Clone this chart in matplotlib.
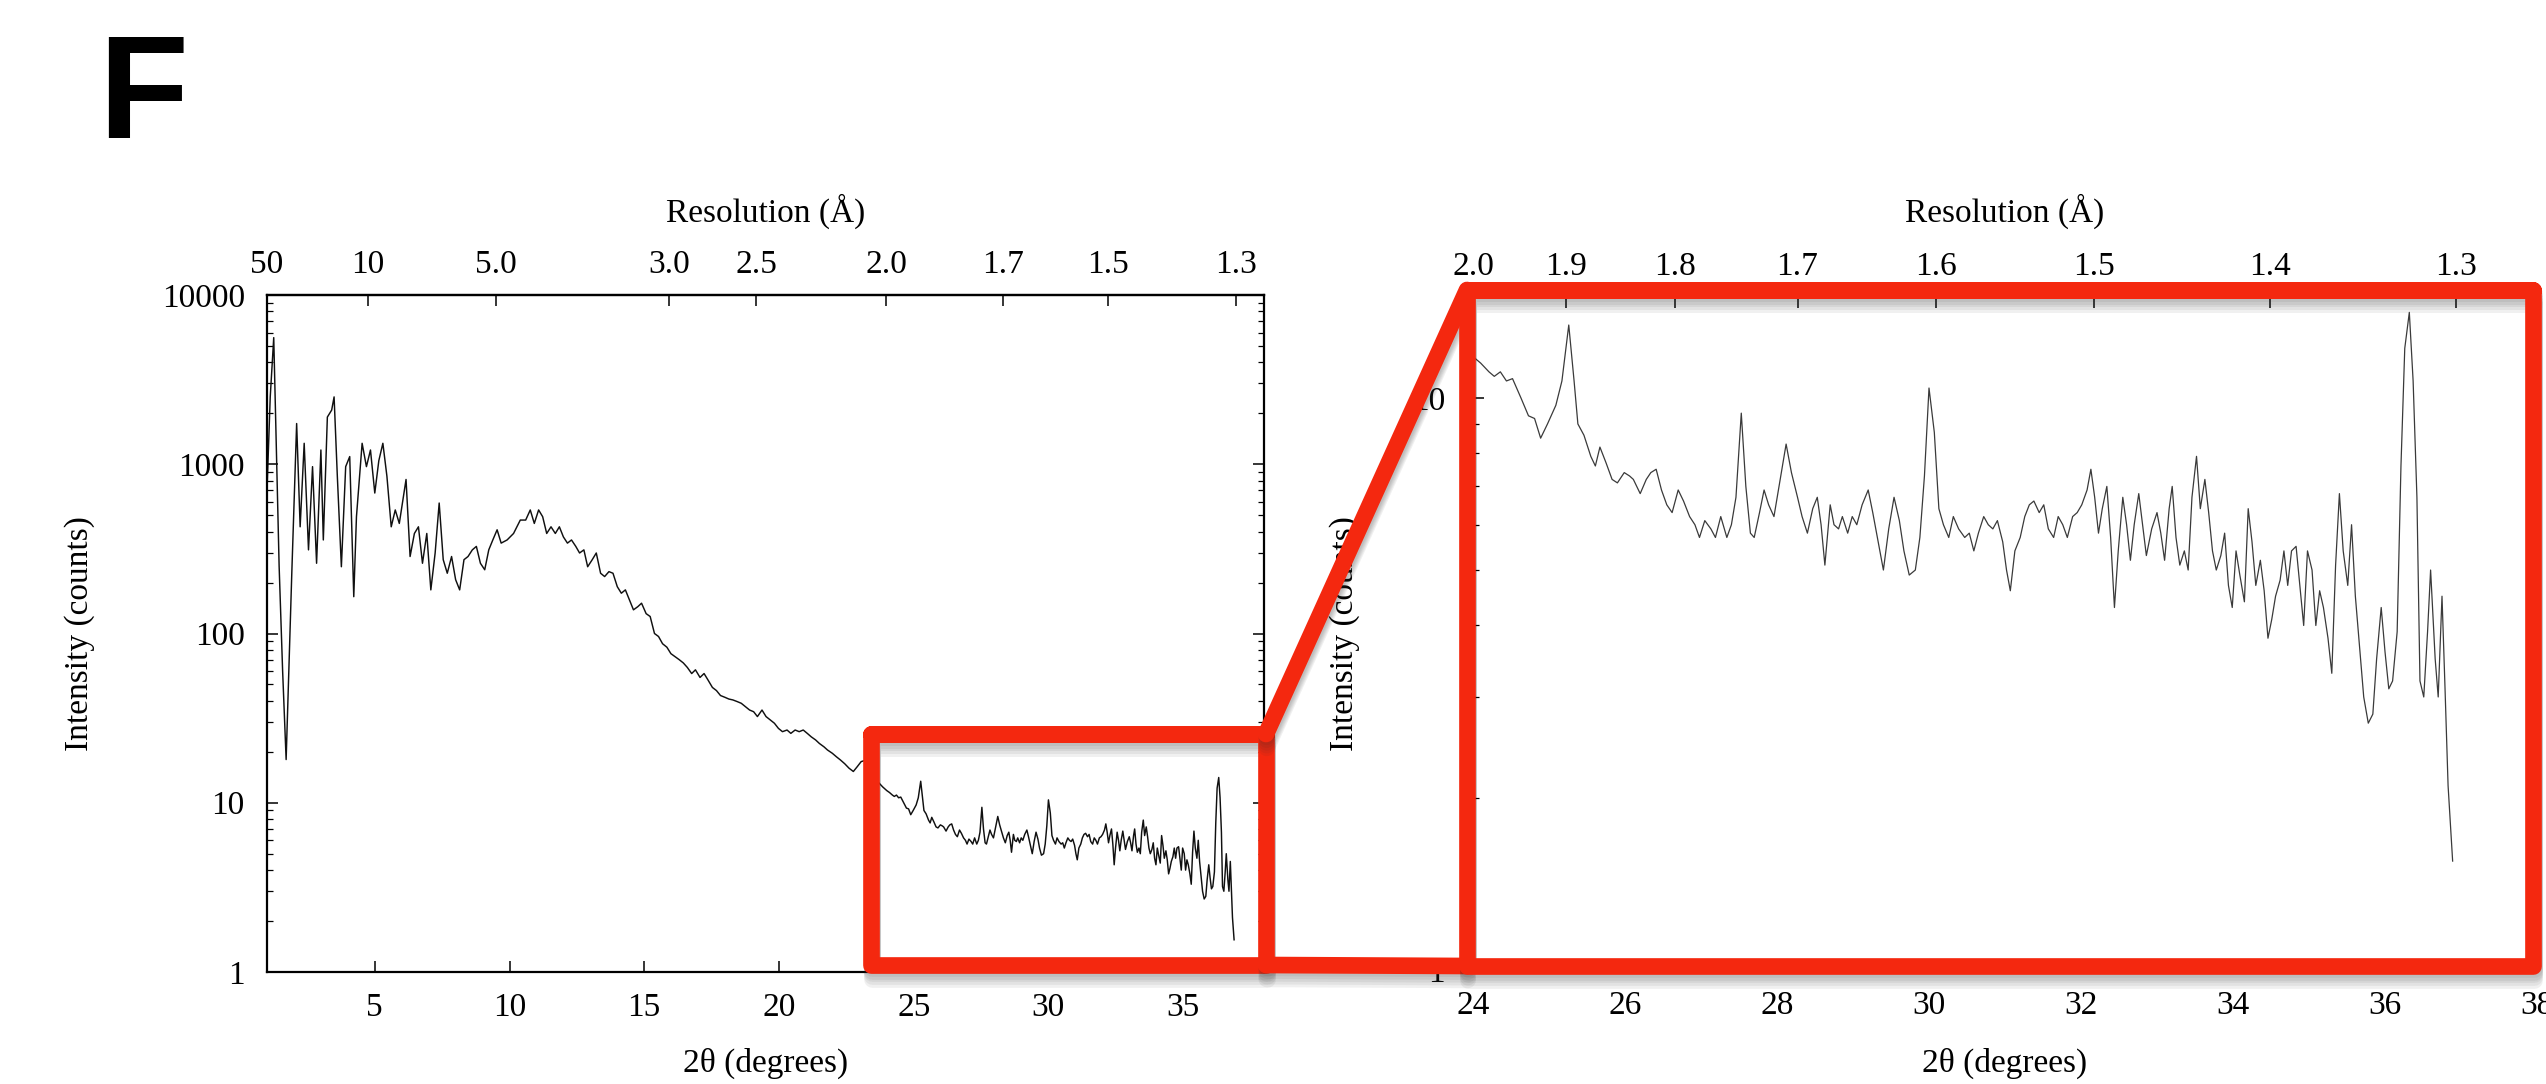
import numpy as np
import matplotlib
matplotlib.use("Agg")
import matplotlib.pyplot as plt
from matplotlib.lines import Line2D
import matplotlib.patheffects as pe
from matplotlib.ticker import LogLocator, NullFormatter

plt.rcParams['font.family'] = ['Liberation Serif', 'DejaVu Serif']

# ---------------- data ----------------
two_theta_low = [
    1.00, 1.12, 1.25, 1.35, 1.45, 1.58, 1.71, 1.92, 2.10, 2.23,
    2.38, 2.54, 2.69, 2.84, 3.00, 3.09, 3.24, 3.40, 3.49, 3.61,
    3.76, 3.92, 4.07, 4.22, 4.32, 4.53, 4.69, 4.84, 5.00, 5.15,
    5.30, 5.45, 5.61, 5.76, 5.91, 6.16, 6.31, 6.47, 6.62, 6.77,
    6.93, 7.08, 7.24, 7.39, 7.54, 7.69, 7.85, 8.00, 8.15, 8.31,
    8.46, 8.62, 8.77, 8.92, 9.08, 9.23, 9.38, 9.54, 9.69, 9.91,
    10.15, 10.40, 10.60, 10.77, 10.92, 11.08, 11.23, 11.38, 11.54, 11.70,
    11.85, 12.00, 12.15, 12.30, 12.46, 12.60, 12.76, 12.90, 13.07, 13.22,
    13.38, 13.53, 13.69, 13.84, 14.00, 14.15, 14.30, 14.45, 14.60, 14.76,
    14.90, 15.07, 15.22, 15.38, 15.53, 15.68, 15.84, 15.99, 16.14, 16.30,
    16.45, 16.60, 16.76, 16.90, 17.07, 17.22, 17.37, 17.53, 17.68, 17.83,
    17.99, 18.14, 18.29, 18.45, 18.60, 18.75, 18.91, 19.06, 19.20, 19.37,
    19.52, 19.67, 19.83, 19.98, 20.13, 20.30, 20.44, 20.60, 20.75, 20.90,
    21.05, 21.20, 21.36, 21.50, 21.67, 21.80, 21.98, 22.13, 22.28, 22.44,
    22.60, 22.76, 22.90, 23.05, 23.20, 23.35, 23.50, 23.67, 23.85,
]
counts_low = [
    700, 2500, 5600, 1200, 250, 60, 18, 227, 1740, 427,
    1330, 312, 968, 260, 1214, 357, 1900, 2090, 2500, 850,
    248, 968, 1110, 165, 490, 1330, 968, 1214, 676, 1050,
    1330, 850, 427, 537, 447, 813, 285, 390, 427, 260,
    390, 181, 299, 590, 273, 227, 285, 208, 181, 273,
    285, 312, 327, 260, 238, 312, 357, 410, 342, 357,
    390, 468, 468, 537, 447, 537, 490, 390, 427, 390,
    427, 372, 342, 357, 327, 299, 312, 248, 273, 299,
    227, 217, 232, 227, 189, 173, 181, 158, 138, 144,
    151, 131, 126, 100, 96, 87, 83, 76, 73, 70,
    67, 63, 58, 61, 55, 58, 53, 48, 46, 43,
    42, 41, 40.5, 39.6, 38.7, 37, 35.3, 34.5, 32.3, 35.3,
    32.3, 30.9, 29.5, 27.5, 26.3, 26.9, 25.7, 26.9, 26.3, 26.9,
    25.7, 24.5, 23.5, 22.4, 21.4, 20.5, 19.6, 18.7, 17.9, 17.0,
    16.0, 15.3, 16.3, 17.5, 17.8, 16.5, 15.0, 13.3, 12.4,
]
two_theta_high = [
    24.00, 24.10, 24.21, 24.28, 24.36, 24.44, 24.52, 24.63, 24.73, 24.81,
    24.89, 24.98, 25.09, 25.17, 25.26, 25.33, 25.38, 25.46, 25.55, 25.61,
    25.67, 25.75, 25.83, 25.90, 25.99, 26.06, 26.11, 26.20, 26.28, 26.34,
    26.41, 26.48, 26.55, 26.62, 26.70, 26.77, 26.85, 26.92, 26.98, 27.05,
    27.13, 27.19, 27.26, 27.34, 27.40, 27.46, 27.53, 27.59, 27.65, 27.70,
    27.77, 27.83, 27.89, 27.96, 28.05, 28.12, 28.19, 28.27, 28.33, 28.40,
    28.47, 28.53, 28.58, 28.63, 28.70, 28.75, 28.81, 28.86, 28.93, 28.99,
    29.05, 29.12, 29.20, 29.26, 29.32, 29.40, 29.47, 29.54, 29.61, 29.67,
    29.74, 29.82, 29.88, 29.94, 30.00, 30.07, 30.13, 30.19, 30.26, 30.32,
    30.39, 30.47, 30.53, 30.59, 30.65, 30.72, 30.78, 30.84, 30.90, 30.97,
    31.02, 31.07, 31.13, 31.20, 31.26, 31.32, 31.38, 31.45, 31.51, 31.57,
    31.64, 31.70, 31.76, 31.82, 31.89, 31.95, 32.01, 32.08, 32.13, 32.18,
    32.23, 32.28, 32.34, 32.39, 32.44, 32.49, 32.55, 32.60, 32.65, 32.70,
    32.76, 32.81, 32.86, 32.93, 33.00, 33.05, 33.10, 33.16, 33.20, 33.25,
    33.30, 33.36, 33.41, 33.46, 33.52, 33.57, 33.63, 33.68, 33.73, 33.78,
    33.84, 33.89, 33.94, 33.99, 34.04, 34.09, 34.15, 34.20, 34.25, 34.30,
    34.36, 34.41, 34.46, 34.51, 34.56, 34.62, 34.67, 34.72, 34.77, 34.83,
    34.88, 34.93, 34.98, 35.04, 35.09, 35.14, 35.19, 35.25, 35.30, 35.35,
    35.40, 35.45, 35.51, 35.56, 35.61, 35.67, 35.72, 35.78, 35.84, 35.89,
    35.95, 36.00, 36.05, 36.10, 36.16, 36.21, 36.26, 36.32, 36.37, 36.42,
    36.46, 36.51, 36.56, 36.60, 36.66, 36.70, 36.75, 36.79, 36.83, 36.89,
]
counts_high = [
    11.8, 11.5, 11.1, 10.9, 11.1, 10.7, 10.8, 10.0, 9.3, 9.2,
    8.5, 9.0, 9.7, 10.7, 13.4, 10.7, 9.0, 8.6, 7.9, 7.6,
    8.2, 7.7, 7.2, 7.1, 7.4, 7.3, 7.2, 6.8, 7.2, 7.4,
    7.5, 6.9, 6.5, 6.3, 6.9, 6.6, 6.2, 6.0, 5.7, 6.1,
    5.9, 5.7, 6.2, 5.7, 6.0, 6.7, 9.4, 7.0, 5.8, 5.7,
    6.3, 6.9, 6.5, 6.2, 7.3, 8.3, 7.4, 6.7, 6.2, 5.8,
    6.4, 6.7, 6.0, 5.1, 6.5, 6.0, 5.9, 6.2, 5.8, 6.2,
    6.0, 6.5, 6.9, 6.3, 5.7, 5.0, 5.9, 6.7, 6.1, 5.4,
    4.9, 5.0, 5.7, 7.3, 10.4, 8.7, 6.4, 6.0, 5.7, 6.2,
    5.9, 5.7, 5.8, 5.4, 5.8, 6.2, 6.0, 5.9, 6.1, 5.6,
    5.0, 4.6, 5.4, 5.7, 6.2, 6.5, 6.6, 6.3, 6.5, 5.9,
    5.7, 6.2, 6.0, 5.7, 6.2, 6.3, 6.5, 6.9, 7.5, 6.7,
    5.8, 6.4, 7.0, 5.7, 4.3, 5.4, 6.7, 6.0, 5.2, 6.0,
    6.8, 6.0, 5.3, 5.9, 6.3, 5.8, 5.2, 6.4, 7.0, 5.7,
    5.1, 5.4, 5.0, 6.7, 7.9, 6.4, 7.2, 6.3, 5.4, 5.0,
    5.3, 5.8, 4.7, 4.3, 5.4, 4.9, 4.4, 6.4, 5.6, 4.7,
    5.2, 4.6, 3.8, 4.1, 4.5, 4.8, 5.4, 4.7, 5.4, 5.5,
    4.7, 4.0, 5.4, 5.0, 4.0, 4.6, 4.3, 3.8, 3.3, 5.1,
    6.8, 5.4, 4.7, 6.0, 4.5, 3.6, 3.0, 2.7, 2.8, 3.5,
    4.3, 3.6, 3.1, 3.2, 3.9, 7.6, 12.2, 14.1, 10.7, 6.7,
    3.2, 3.0, 3.9, 5.0, 3.5, 3.0, 4.5, 3.1, 2.1, 1.55,
]

x_ticks_full = [5, 10, 15, 20, 25, 30, 35]
x_ticks_zoom = [24, 26, 28, 30, 32, 34, 36, 38]
y_ticks_full = [1, 10, 100, 1000, 10000]
y_ticks_zoom = [1, 10]
res_labels_full = ['50', '10', '5.0', '3.0', '2.5', '2.0', '1.7', '1.5', '1.3']
res_pos_full = [1.0, 4.73, 9.48, 15.93, 19.15, 23.98, 28.31, 32.2, 36.95]
res_labels_zoom = ['2.0', '1.9', '1.8', '1.7', '1.6', '1.5', '1.4', '1.3']
res_pos_zoom = [24.0, 25.23, 26.66, 28.27, 30.09, 32.17, 34.49, 36.94]

tt = np.array(two_theta_low + two_theta_high)
cc = np.array(counts_low + counts_high)

# ---------------- figure ----------------
W, H = 2546, 1084
fig = plt.figure(figsize=(W / 100, H / 100), dpi=100)


def px_rect(x0, y0, x1, y1):
    return [x0 / W, 1 - y1 / H, (x1 - x0) / W, (y1 - y0) / H]


ax1 = fig.add_axes(px_rect(267, 295, 1264, 972))
ax2 = fig.add_axes(px_rect(1473, 297, 2537, 970))

FS = 24


def ax_bottom(ax):
    return (1 - ax.get_position().y0) * H


def ax_height(ax):
    return ax.get_position().height * H


def style(ax, xlim, ylim, xt, yt, rpos, rlab, ypad, color, lw):
    ax.plot(tt, cc, color=color, lw=lw)
    ax.set_yscale('log')
    ax.set_xlim(*xlim)
    ax.set_ylim(*ylim)
    ax.set_xticks(xt, [str(v) for v in xt])
    ax.set_yticks(yt, [str(v) for v in yt])
    ax.yaxis.set_minor_locator(LogLocator(base=10, subs=np.arange(2, 10)))
    ax.yaxis.set_minor_formatter(NullFormatter())
    ax.tick_params(axis='both', which='both', direction='in', labelsize=FS,
                   top=False, right=True)
    ax.tick_params(axis='y', which='major', length=8, width=1.1, pad=ypad)
    ax.tick_params(axis='y', which='minor', length=4, width=0.9)
    ax.tick_params(axis='x', which='major', length=8, width=1.1, pad=15)
    for s in ax.spines.values():
        s.set_linewidth(1.6)
    sec = ax.secondary_xaxis('top')
    sec.set_xticks(rpos, rlab)
    sec.tick_params(direction='in', length=8, width=1.1, labelsize=FS, pad=11)
    sec.spines['top'].set_linewidth(1.6)
    ax.text(0.5, (ax_bottom(ax) - 222) / ax_height(ax), 'Resolution (Å)',
            transform=ax.transAxes, ha='center', va='baseline', fontsize=FS)
    ax.set_xlabel('2θ (degrees)', fontsize=FS)
    ax.set_ylabel('Intensity (counts)', fontsize=FS)


style(ax1, (1, 38), (1, 10000), x_ticks_full, y_ticks_full,
      res_pos_full, res_labels_full, 16, '#101010', 1.05)
style(ax2, (24, 38), (1, 15), x_ticks_zoom, y_ticks_zoom,
      res_pos_zoom, res_labels_zoom, 20, '#3a3a3a', 0.9)

ax1.xaxis.set_label_coords(0.5, -0.112)
ax2.xaxis.set_label_coords(0.5, -0.116)
ax1.yaxis.set_label_coords((95 - 267) / 997, 0.5)
ax2.yaxis.set_label_coords((1360 - 1473) / 1064, 0.5)

# panel letter
fig.text(98 / W, 1 - 138 / H, 'F', fontsize=106, fontweight='bold',
         family=['Liberation Sans', 'DejaVu Sans'], ha='left', va='baseline')

# ---------------- red zoom overlay ----------------
red = '#f4280f'
shadow = [pe.SimpleLineShadow(offset=(0.5, -k), shadow_color='#303030', alpha=0.07)
          for k in (2, 4, 6, 8, 10)] + [pe.Normal()]


def fline(pts, closed=False):
    if closed:
        pts = pts + [pts[0], pts[1]]
    xs = [p[0] / W for p in pts]
    ys = [1 - p[1] / H for p in pts]
    ln = Line2D(xs, ys, transform=fig.transFigure, color=red, lw=12,
                solid_joinstyle='round', solid_capstyle='round',
                path_effects=shadow, zorder=10)
    fig.add_artist(ln)


fline([(871, 734), (1266, 734), (1266, 965), (871, 965)], closed=True)
fline([(1266, 734), (1467, 290)])
fline([(1266, 965), (1467, 966)])
fline([(1467, 290), (2533, 290), (2533, 966), (1467, 966)], closed=True)

fig.savefig('out.png', dpi=100)
